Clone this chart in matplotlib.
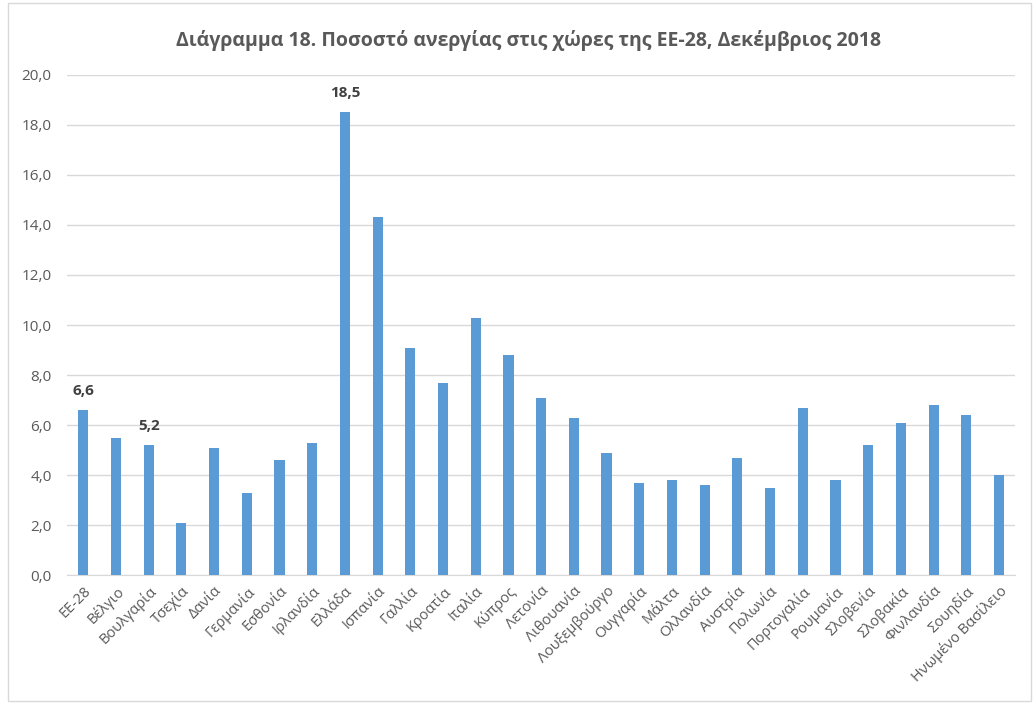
import numpy as np
import matplotlib.pyplot as plt
from matplotlib.patches import Rectangle

# -----------------------------
# Data
# -----------------------------
countries = [
    "ΕΕ-28", "Βέλγιο", "Βουλγαρία", "Τσεχία", "Δανία", "Γερμανία", "Εσθονία",
    "Ιρλανδία", "Ελλάδα", "Ισπανία", "Γαλλία", "Κροατία", "Ιταλία", "Κύπρος",
    "Λετονία", "Λιθουανία", "Λουξεμβούργο", "Ουγγαρία", "Μάλτα", "Ολλανδία",
    "Αυστρία", "Πολωνία", "Πορτογαλία", "Ρουμανία", "Σλοβενία", "Σλοβακία",
    "Φινλανδία", "Σουηδία", "Ηνωμένο Βασίλειο",
]
unemployment = [
    6.6, 5.5, 5.2, 2.1, 5.1, 3.3, 4.6,
    5.3, 18.5, 14.3, 9.1, 7.7, 10.3, 8.8,
    7.1, 6.3, 4.9, 3.7, 3.8, 3.6,
    4.7, 3.5, 6.7, 3.8, 5.2, 6.1,
    6.8, 6.4, 4.0,
]
labelled = ["ΕΕ-28", "Βουλγαρία", "Ελλάδα"]
y_ticks = [0, 2, 4, 6, 8, 10, 12, 14, 16, 18, 20]

TITLE = "Διάγραμμα 18. Ποσοστό ανεργίας στις χώρες της ΕΕ-28, Δεκέμβριος 2018"

BAR_COLOR = "#5B9BD5"
TEXT_COLOR = "#595959"
GRID_COLOR = "#D9D9D9"

plt.rcParams["font.family"] = ["Open Sans", "DejaVu Sans"]

fig = plt.figure(figsize=(10.35, 7.04), dpi=100)
ax = fig.add_axes([0.0647, 0.1832, 0.9163, 0.7103])

x = np.arange(len(countries))
ax.bar(x, unemployment, width=0.31, color=BAR_COLOR, zorder=3)

# data labels only on a few bars
for i, (name, val) in enumerate(zip(countries, unemployment)):
    if name in labelled:
        ax.text(i, val + 0.5, f"{val:.1f}".replace(".", ","), ha="center",
                va="bottom", fontsize=11, fontweight="bold", color="#404040")

ax.set_xlim(-0.5, len(countries) - 0.5)
ax.set_ylim(0, 20)
ax.set_yticks(y_ticks)
ax.set_yticklabels([f"{v:.1f}".replace(".", ",") for v in y_ticks],
                   fontsize=11, color=TEXT_COLOR)
ax.set_xticks(x)
ax.set_xticklabels(countries, rotation=45, ha="right", rotation_mode="anchor",
                   fontsize=10.5, color=TEXT_COLOR)
ax.tick_params(axis="both", length=0)
ax.tick_params(axis="y", pad=11)
ax.tick_params(axis="x", pad=6)

ax.grid(axis="y", color=GRID_COLOR, linewidth=1, zorder=0)
for side in ["left", "right", "top"]:
    ax.spines[side].set_visible(False)
ax.spines["bottom"].set_color(GRID_COLOR)

fig.text(0.511, 0.943, TITLE, ha="center", va="center", fontsize=14,
         fontweight="bold", color=TEXT_COLOR)

# chart border
fig.patches.append(Rectangle((0.008, 0.004), 0.988, 0.992, transform=fig.transFigure,
                             fill=False, edgecolor=GRID_COLOR, linewidth=1))

fig.savefig("out.png", dpi=100)
